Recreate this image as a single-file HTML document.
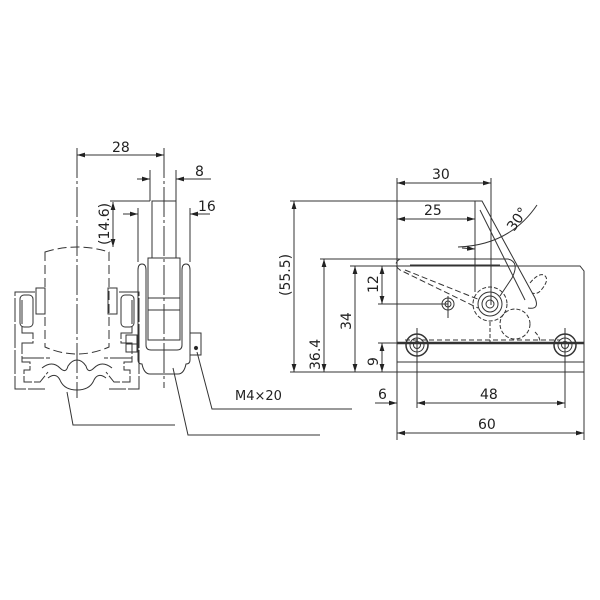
<!DOCTYPE html>
<html><head><meta charset="utf-8"><style>
html,body{margin:0;padding:0;background:#fff}
svg{display:block}
text{font-family:"DejaVu Sans","Liberation Sans",sans-serif;font-size:14px;fill:#222}
</style></head><body>
<svg width="600" height="600" viewBox="0 0 600 600" xmlns="http://www.w3.org/2000/svg">
<defs>
<marker id="a" viewBox="0 0 10 6" refX="10" refY="3" markerWidth="8" markerHeight="5" orient="auto-start-reverse"><path d="M0,0L10,3L0,6z" fill="#222"/></marker>
</defs>
<g stroke="#333" stroke-width="1" fill="none">
<!-- LEFT VIEW -->
<line x1="77" y1="148" x2="77" y2="398" stroke-dasharray="30,3,3,3"/>
<line x1="164" y1="148" x2="164" y2="388" stroke-dasharray="30,3,3,3"/>
<line x1="77" y1="155" x2="164" y2="155" marker-start="url(#a)" marker-end="url(#a)"/>
<line x1="150" y1="170" x2="150" y2="201"/><line x1="176" y1="170" x2="176" y2="201"/>
<line x1="137" y1="179" x2="150" y2="179" marker-end="url(#a)"/>
<line x1="176" y1="179" x2="211" y2="179" marker-start="url(#a)"/>
<line x1="138" y1="208" x2="138" y2="262"/><line x1="190" y1="208" x2="190" y2="262"/>
<line x1="123" y1="214" x2="138" y2="214" marker-end="url(#a)"/>
<line x1="190" y1="214" x2="210" y2="214" marker-start="url(#a)"/>
<line x1="110" y1="201" x2="150" y2="201"/>
<line x1="113" y1="202" x2="113" y2="247" marker-start="url(#a)" marker-end="url(#a)"/>
<!-- rod -->
<path d="M152,258 V201 H176 V258"/>
<rect x="148" y="258" width="32" height="82"/>
<line x1="148" y1="298" x2="180" y2="298"/><line x1="148" y1="310" x2="180" y2="310"/>
<line x1="146" y1="292" x2="146" y2="316"/><line x1="182" y1="292" x2="182" y2="316"/>
<!-- U bracket -->
<path d="M138,360 V270 q0,-6 4,-6 q4,0 4,6 V345 q0,5 5,5 h26 q5,0 5,-5 V270 q0,-6 4,-6 q4,0 4,6 V360"/>
<path d="M138,360 q0,4 4,4 q2,10 8,10 h28 q6,0 8,-10 q4,0 4,-4"/>
<rect x="190" y="333" width="11" height="22"/><circle cx="196" cy="348" r="1.6" fill="#222"/>
<!-- dashed body -->
<path d="M45,252 q32,-10 64,0 v95 q-32,14 -64,0 z" stroke-dasharray="9,4"/>
<!-- profile left -->
<path d="M35,292 H15 V389 H45 M22,300 V333 H33 V343 H22 V358 H50" stroke-dasharray="24,2"/>
<path d="M22,358 V362 H30 V370 H24 V382 H40 L48,372" stroke-dasharray="14,2"/>
<rect x="20" y="295" width="13" height="32" rx="4"/>
<rect x="36" y="288" width="9" height="26"/>
<!-- profile right -->
<path d="M119,292 H139 V389 H109 M132,300 V333 H121 V343 H132 V358 H104" stroke-dasharray="24,2"/>
<path d="M132,358 V362 H124 V370 H130 V382 H114 L106,372" stroke-dasharray="14,2"/>
<rect x="121" y="295" width="13" height="32" rx="4"/>
<rect x="108" y="288" width="9" height="26"/>
<rect x="126" y="335" width="11" height="17"/><line x1="126" y1="344" x2="137" y2="344"/>
<!-- bottom grooves -->
<path d="M42,368 q10,-8 18,0 q6,6 8,-2 q4,-6 9,-6 q5,0 9,6 q2,8 8,2 q8,-8 18,0"/>
<path d="M48,378 q8,-6 12,2 q4,10 17,10 q13,0 17,-10 q4,-8 12,-2"/>
<!-- leaders -->
<polyline points="67,392 73,425 175,425"/>
<polyline points="173,368 188,435 320,435"/>
<polyline points="197,352 212,409 352,409"/>
<!-- RIGHT VIEW -->
<path d="M397,266 H580 L584,271 V372 H397 Z"/>
<line x1="397" y1="362" x2="584" y2="362"/>
<line x1="397" y1="343" x2="584" y2="343" stroke-width="2.5"/>
<line x1="405" y1="340" x2="560" y2="340" stroke-dasharray="5,3"/>
<circle cx="417" cy="345" r="11" stroke-width="1.5"/><circle cx="417" cy="345" r="7"/><circle cx="417" cy="345" r="3.5"/>
<circle cx="565" cy="345" r="11" stroke-width="1.5"/><circle cx="565" cy="345" r="7"/><circle cx="565" cy="345" r="3.5"/>
<circle cx="448" cy="304" r="6"/><circle cx="448" cy="304" r="3"/>
<line x1="448" y1="296" x2="448" y2="318"/>
<circle cx="490" cy="304" r="12"/><circle cx="490" cy="304" r="8"/><circle cx="490" cy="304" r="4"/>
<circle cx="490" cy="304" r="17" stroke-dasharray="4,2"/>
<circle cx="515" cy="324" r="15" stroke-dasharray="4,2"/>
<!-- lever -->
<path d="M400,259 H508 Q520,262 512,278 L500,296"/>
<path d="M410,265 H500"/>
<path d="M400,259 Q392,264 400,270 L478,308" stroke-dasharray="6,3"/>
<path d="M405,270 L480,300" stroke-dasharray="6,3"/>
<path d="M475,201 H482 L535,298 Q540,310 528,308"/>
<path d="M475,201 V292"/><path d="M480,210 L525,300"/>
<path d="M530,283 q8,-10 14,-8 q6,4 -2,14 q-4,6 -10,4" stroke-dasharray="4,2"/>
<path d="M490,322 V342 M535,332 q5,5 5,10" stroke-dasharray="4,2"/>
<!-- dims right -->
<line x1="397" y1="178" x2="397" y2="440"/>
<line x1="584" y1="272" x2="584" y2="440"/>
<line x1="491" y1="178" x2="491" y2="305"/>
<line x1="417" y1="328" x2="417" y2="408"/><line x1="565" y1="328" x2="565" y2="408"/>
<line x1="397" y1="183" x2="491" y2="183" marker-start="url(#a)" marker-end="url(#a)"/>
<line x1="397" y1="219" x2="475" y2="219" marker-start="url(#a)" marker-end="url(#a)"/>
<line x1="397" y1="433" x2="584" y2="433" marker-start="url(#a)" marker-end="url(#a)"/>
<line x1="417" y1="403" x2="565" y2="403" marker-start="url(#a)" marker-end="url(#a)"/>
<line x1="375" y1="403" x2="397" y2="403" marker-end="url(#a)"/>
<line x1="290" y1="201" x2="475" y2="201"/>
<line x1="320" y1="259" x2="400" y2="259"/>
<line x1="350" y1="266" x2="397" y2="266"/>
<line x1="378" y1="304" x2="448" y2="304"/>
<line x1="378" y1="343" x2="397" y2="343"/>
<line x1="290" y1="372" x2="397" y2="372"/>
<line x1="294" y1="201" x2="294" y2="372" marker-start="url(#a)" marker-end="url(#a)"/>
<line x1="324" y1="259" x2="324" y2="372" marker-start="url(#a)" marker-end="url(#a)"/>
<line x1="355" y1="266" x2="355" y2="372" marker-start="url(#a)" marker-end="url(#a)"/>
<line x1="382" y1="266" x2="382" y2="304" marker-start="url(#a)" marker-end="url(#a)"/>
<line x1="382" y1="343" x2="382" y2="372" marker-start="url(#a)" marker-end="url(#a)"/>
<path d="M458,247 Q510,245 537,205" />
<line x1="462" y1="248" x2="475" y2="249" marker-end="url(#a)"/>
</g>
<text x="112" y="152">28</text>
<text x="195" y="176">8</text>
<text x="198" y="211">16</text>
<text transform="translate(109,245) rotate(-90)">(14.6)</text>
<text x="235" y="400" style="font-size:13px">M4×20</text>
<text x="432" y="179">30</text>
<text x="424" y="215">25</text>
<text transform="translate(514,232) rotate(-55)">30°</text>
<text transform="translate(290,296) rotate(-90)">(55.5)</text>
<text transform="translate(320,370) rotate(-90)">36.4</text>
<text transform="translate(351,330) rotate(-90)">34</text>
<text transform="translate(378,293) rotate(-90)">12</text>
<text transform="translate(378,366) rotate(-90)">9</text>
<text x="378" y="399">6</text>
<text x="480" y="399">48</text>
<text x="478" y="429">60</text>
</svg>
</body></html>
